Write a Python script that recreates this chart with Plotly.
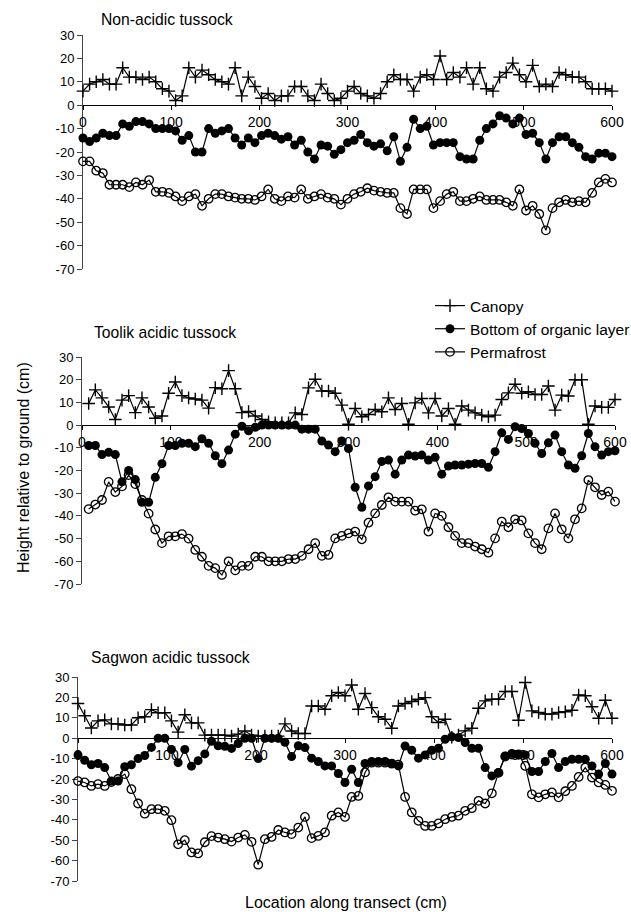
import plotly.graph_objects as go

# Transect positions (cm); readings taken every 7.5 cm
STEP_CM = 7.5

# ---- Non-acidic tussock (0 .. 600 cm) ----
nonacid_canopy = [6, 9, 10, 11, 9, 9, 16, 12, 12, 11, 12, 10, 7, 6, 2, 4, 16, 12, 15, 13, 11, 10, 9, 16, 4, 12, 8, 3, 5, 2, 4, 4, 8,
                  8, 4, 2, 9, 5, 2, 3, 6, 8, 5, 4, 3, 5, 10, 13, 11, 11, 6, 12, 13, 11, 21, 11, 14, 12, 16, 9, 16, 7, 6,
                  12, 14, 18, 13, 10, 17, 8, 9, 8, 14, 13, 12, 12, 10, 7, 7, 7, 6]
nonacid_organic = [-14, -15.5, -14, -12, -13, -13, -8, -9, -7, -7, -8, -10, -10, -10, -11, -15, -13, -20, -20, -10, -12, -11, -10,
                   -14, -17, -14, -16, -13, -12, -13, -14.5, -13.5, -17,
                   -15, -20, -23, -17, -17.5, -21, -19, -16, -15, -12.5, -16, -17.5, -16.5, -19.5, -13.5, -24, -18, -6, -10, -9,
                   -17, -16, -16, -16, -22, -23, -23, -15, -10, -8, -4.5, -5.5, -8, -5.5, -12.5, -12, -16, -23, -16, -13.5,
                   -13.5, -16, -18, -22, -23, -20.5, -20.5, -22]
nonacid_perm = [-24, -24, -28, -29, -34, -34, -34, -35, -33, -34, -32, -37, -37, -37.5, -39, -41, -39, -38, -43, -40, -38, -38, -39,
                -39.5, -40, -40, -40.5, -39, -36, -40, -41, -39, -39.5,
                -36, -40, -39, -38, -39.5, -40, -42.5, -40, -38, -37, -35.5, -36.5, -37, -37.5, -37.5, -44, -46.5, -36, -36, -36,
                -44, -41, -38, -37, -41, -41, -40, -39, -40.5, -40.5, -40.5, -41.5, -43, -36, -45, -43, -46.5, -53.5, -44, -41.5,
                -40.5, -41.5, -41, -41.5, -37.5, -33, -31.5, -33]

# ---- Toolik acidic tussock (7.5 .. 600 cm) ----
toolik_canopy = [9.5, 15.5, 12, 8, 2.5, 11, 13, 5.5, 12, 8, 3, 4, 14, 19, 13, 12, 11.5, 11, 7.5, 16.5, 16, 24, 16, 5.5, 6, 4,
                 2.5, 1.5, 1, 1, 1, 5.4,
                 4.7, 16.4, 20.2, 15, 15, 14, 8.8, 0.4, 7.3, 3.7, 4.7, 6.9, 5.9, 12, 6.9, 9.5, 0.4, 9.8, 11.7, 5.4, 11.7, 4,
                 7.3, 0.4, 8.4, 6.6, 5.4, 4.4, 3.7, 4.4, 11.3, 14.2, 18, 14, 14.7, 13.5, 13.5, 17.2, 6.6, 13.2, 12.8, 20, 20,
                 0.4, 8.4, 7.8, 7.8, 11.3]
toolik_organic = [-9, -9, -13, -12, -13, -25, -20, -24, -34, -34, -23, -17, -9, -9, -8, -8, -9.5, -6, -8, -13.5, -17, -11, -4,
                  -0.5, -2.5, -1, 0, 0, 0, 0, 0, 0,
                  -1.8, -1.8, -1.8, -7, -8.8, -11.7, -7, -10.3, -27.4, -36.2, -26.8, -22.7, -16, -15.4, -21.6, -15.4, -13.2,
                  -13.6, -13.2, -15.4, -14.2, -21.6, -18, -17.6, -17.6, -17.2, -16.9, -16.9, -18.6, -11.7, -3.4, -6.3, -0.7,
                  -1.5, -3.7, -8, -12.5, -7.8, -4.4, -11.7, -17.6, -19, -13.5, -3.7, -9.5, -13.2, -11.7, -11.3]
toolik_perm = [-37, -35, -33, -25, -29.5, -27, -22, -26, -33, -39, -46, -52, -49, -49, -48, -50, -55, -58, -62, -63, -66, -60,
               -64, -62, -62, -58, -58, -60, -60, -60, -59, -59,
               -57.6, -54.7, -52, -57.6, -57.2, -49.9, -48.8, -47.7, -46.9, -50.3, -43, -38.9, -35.2, -31.8, -33.7, -33.7,
               -33.7, -37.7, -37.1, -46.9, -38.9, -40, -45, -48.8, -52, -52, -53.5, -54.7, -56.2, -49.9, -42.5, -45, -41.5,
               -42, -47.7, -52, -54.7, -45.5, -38.9, -45.9, -49.9, -41.5, -36.7, -24.2, -27.4, -30.8, -29.3, -33.7]

# ---- Sagwon acidic tussock (0 .. 600 cm) ----
sagwon_canopy = [17, 11, 5, 8.5, 9, 7, 7, 6.5, 6.5, 10, 10.5, 14, 12.5, 12.5, 8.5, 3, 11.5, 7.5, 7.5, 1.5, 1.5, 1.5, 1.5, 1, 2,
                 3.5, 1.5, 1, 1, 1, 1, 7, 3.5, 2.3,
                 2.3, 15.8, 15.8, 14.2, 20.8, 22.4, 20.8, 26.1, 14.2, 21.9, 15, 10.5, 9.3, 4.9, 15.8, 17, 18, 19.1, 19.9, 10.5,
                 7.7, 9.3, 0.5, 1.5, 3.6, 4.9, 14.7, 18.3, 19.1, 19.1, 22.9, 22.9, 8.8, 27.3, 13.4, 12.6, 11.8, 11.8, 12.6, 13,
                 13.7, 21.2, 20.8, 15.4, 9.8, 18.6, 9.8]
sagwon_organic = [-8.2, -10.8, -13, -12.4, -14.4, -21, -21, -14, -13, -10, -8.5, -4.5, 0, 0, -5.5, -12, -5.5, -13.7, -11, -7.7,
                  -1.5, -3.7, -4, -5, -2.6, 0, 0, -10, 0, 0, 0, -2, -9, -3.7,
                  -4.6, -9.8, -11.4, -13.6, -13.6, -17.3, -21.7, -15.2, -21.7, -12.4, -11.4, -11.4, -11.4, -12.4, -13.6, -3.8,
                  -5.9, -9.8, -8.2, -5.9, -4.9, -0.5, 0.7, 0.3, -2.1, -4.9, -4.9, -14.4, -18.5, -16.8, -8.7, -7.5, -8.2, -8.2,
                  -16.3, -16.3, -11.4, -7.5, -14.4, -11.4, -10.3, -10.3, -10.3, -13.6, -17.6, -12.4, -17.6]
sagwon_perm = [-21, -21.7, -23.4, -22.5, -23.4, -21.5, -20, -17.6, -25, -32, -37, -34.8, -34.8, -35.6, -40.2, -52, -50, -56,
               -56.5, -51, -48, -48.7, -49.5, -50.7, -48.7, -47.4, -50.8, -62, -49.5, -48.4, -45, -46.2, -47, -43.8, -38.6,
               -49, -47.9, -46.2, -38, -36.4, -38.6, -28.8, -28.3, -16.8,
               -12, -12, -12, -12.5, -13, -28.8, -36.4, -40.5, -43, -43, -41.8, -39.7, -38.6, -38, -35.6, -34.3, -30.7, -32,
               -27, -17, -9, -8, -8, -13.6, -27.5, -29, -27.5, -26.6, -29, -26, -23.4, -19, -14.4, -19.3, -21.7, -22.9, -25.8]

panel_titles = ["Non-acidic tussock", "Toolik acidic tussock", "Sagwon acidic tussock"]
series_names = ["Canopy", "Bottom of organic layer", "Permafrost"]

y_tickvals = [-70, -60, -50, -40, -30, -20, -10, 0, 10, 20, 30]
y_ticktext = ["-70", "-60", "-50", "-40", "-30", "-20", "-10", "0", "10", "20", "30"]
x_tickvals = [0, 100, 200, 300, 400, 500, 600]
x_ticktext = ["0", "100", "200", "300", "400", "500", "600"]


def positions(values, first_index=0):
    return [STEP_CM * (first_index + k) for k in range(len(values))]


panels = [
    (positions(nonacid_canopy), nonacid_canopy, nonacid_organic, nonacid_perm),
    (positions(toolik_canopy, 1), toolik_canopy, toolik_organic, toolik_perm),
    (positions(sagwon_canopy), sagwon_canopy, sagwon_organic, sagwon_perm),
]

W, H = 631, 912
FONT = "Liberation Sans, Arial, Helvetica, sans-serif"

# plot-area boxes in pixels: (left, right, top, bottom)
boxes = [
    (83, 612, 35, 269),
    (82, 615, 357, 584),
    (78, 612, 677, 881),
]
# title anchor points in pixels (left x, centre y)
title_pos = [(99, 19), (92, 333), (89, 657)]

fig = go.Figure()

styles = [
    dict(symbol="cross-thin-open", size=9, color="black", line=dict(width=1.4, color="black")),
    dict(symbol="circle", size=9, color="black", line=dict(width=0)),
    dict(symbol="circle-open", size=8.5, color="black", line=dict(width=1.3, color="black")),
]

for p, (xs, canopy, organic, perm) in enumerate(panels):
    ax = "" if p == 0 else str(p + 1)
    for s, vals in enumerate([canopy, organic, perm]):
        fig.add_trace(go.Scatter(
            x=xs, y=vals, mode="lines+markers", name=series_names[s],
            line=dict(color="black", width=1.2),
            marker=styles[s], cliponaxis=False,
            showlegend=(p == 0), xaxis="x" + ax, yaxis="y" + ax,
        ))

    l, r, t, b = boxes[p]
    y0, y1 = 1 - b / H, 1 - t / H
    zero_pos = y0 + (y1 - y0) * (0 - (-70)) / 100.0
    yname = "y" + ax
    fig.update_layout(**{
        "xaxis" + ax: dict(
            domain=[l / W, r / W], range=[0, 600], anchor="free", position=zero_pos,
            showline=True, linecolor="black", linewidth=1.2, showgrid=False, zeroline=False,
            ticks="outside", ticklen=4, tickcolor="black", tickwidth=1,
            tickvals=x_tickvals, ticktext=x_ticktext, layer="below traces",
            tickfont=dict(family=FONT, size=14, color="black"), fixedrange=True,
        ),
        "yaxis" + ax: dict(
            domain=[y0, y1], range=[-70, 30], anchor="x" + ax,
            showline=True, linecolor="#444", linewidth=1, showgrid=False, zeroline=False,
            ticks="outside", ticklen=5, tickcolor="#444", tickwidth=1,
            tickvals=y_tickvals, ticktext=y_ticktext, layer="below traces",
            tickfont=dict(family=FONT, size=13, color="black"), fixedrange=True,
        ),
        # companion axis drawing the inner half of the crossing tick marks
        "yaxis" + str(p + 4): dict(
            overlaying=yname, range=[-70, 30], anchor="x" + ax, side="left",
            showline=False, showgrid=False, zeroline=False, showticklabels=False,
            ticks="inside", ticklen=4, tickcolor="#444", tickwidth=1,
            tickvals=y_tickvals, fixedrange=True,
        ),
    })
    tx, ty = title_pos[p]
    fig.add_annotation(text=panel_titles[p], x=tx / W, y=1 - ty / H, xref="paper", yref="paper",
                       xanchor="left", yanchor="middle", showarrow=False,
                       font=dict(family=FONT, size=15.7, color="black"))

fig.add_annotation(text="Height relative to ground (cm)", x=23 / W, y=1 - 468 / H, xref="paper", yref="paper",
                   textangle=-90, xanchor="center", yanchor="middle", showarrow=False,
                   font=dict(family=FONT, size=16, color="black"))
fig.add_annotation(text="Location along transect (cm)", x=346 / W, y=1 - 902 / H, xref="paper", yref="paper",
                   xanchor="center", yanchor="middle", showarrow=False,
                   font=dict(family=FONT, size=16, color="black"))

fig.update_layout(
    width=W, height=H, margin=dict(l=0, r=0, t=0, b=0, autoexpand=False),
    paper_bgcolor="white", plot_bgcolor="white",
    legend=dict(x=430 / W, y=1 - 289 / H, xanchor="left", yanchor="top",
                font=dict(family=FONT, size=15.5, color="black"), bgcolor="rgba(0,0,0,0)",
                itemwidth=30, tracegroupgap=0),
    font=dict(family=FONT, color="black"),
)

fig.write_html("out.html")
